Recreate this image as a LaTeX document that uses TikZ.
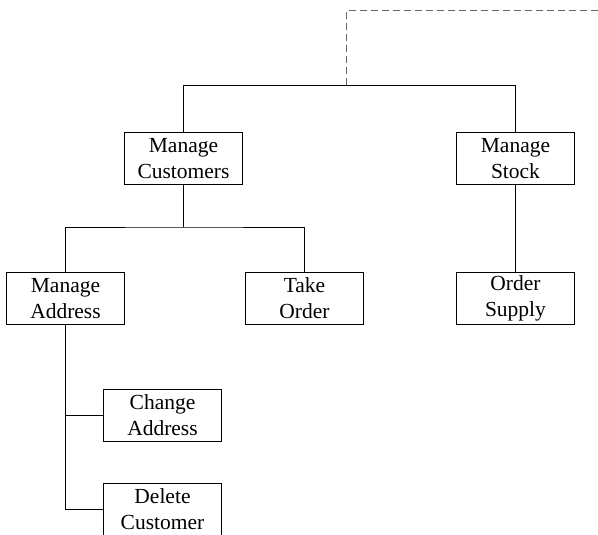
\documentclass[tikz,border=0pt]{standalone}
\usepackage{fontspec}
\setmainfont{Liberation Serif}
\begin{document}
\begin{tikzpicture}[x=1pt,y=-1pt,
  task/.style={draw, line width=1pt, minimum width=118pt, minimum height=52pt,
    inner sep=0pt, align=center, font=\fontsize{21.5}{26}\selectfont},
  link/.style={line width=1pt},
  rootlink/.style={line width=1pt, black!60, dash pattern=on 7pt off 4pt}]
\clip (0,0) rectangle (598,535);
\useasboundingbox (0,0) rectangle (598,535);

% process boxes
\node[task] (mc) at (183.5,158.5) {Manage\\Customers};
\node[task] (ms) at (515.5,158.5) {Manage\\Stock};
\node[task] (ma) at (65.5,298.5)  {Manage\\Address};
\node[task] (to) at (304.5,298.5) {Take\\Order};
\node[task] (os) at (515.5,298.5) {Order\\Supply};
\node[task] (ca) at (162.5,415.5) {Change\\Address};
\node[task] (dc) at (162.5,509.5) {Delete\\Customer};

% link up to the parent process
\coordinate (root) at (346.5,85.5);
\coordinate (parent) at (598,10.5);
\draw[rootlink] (root) |- (parent);

% top level
\draw[link] (mc.north) |- (root) -| (ms.north);

% under Manage Customers
\path (mc.south) ++(0,42) coordinate (mcj);
\draw[link] (mc.south) -- (mcj);
\draw[link] (ma.north) |- (mcj) -| (to.north);

% under Manage Stock
\draw[link] (ms.south) -- (os.north);

% under Manage Address
\draw[link] (ma.south) |- (ca.west);
\draw[link] (ma.south) |- (dc.west);
\end{tikzpicture}
\end{document}
